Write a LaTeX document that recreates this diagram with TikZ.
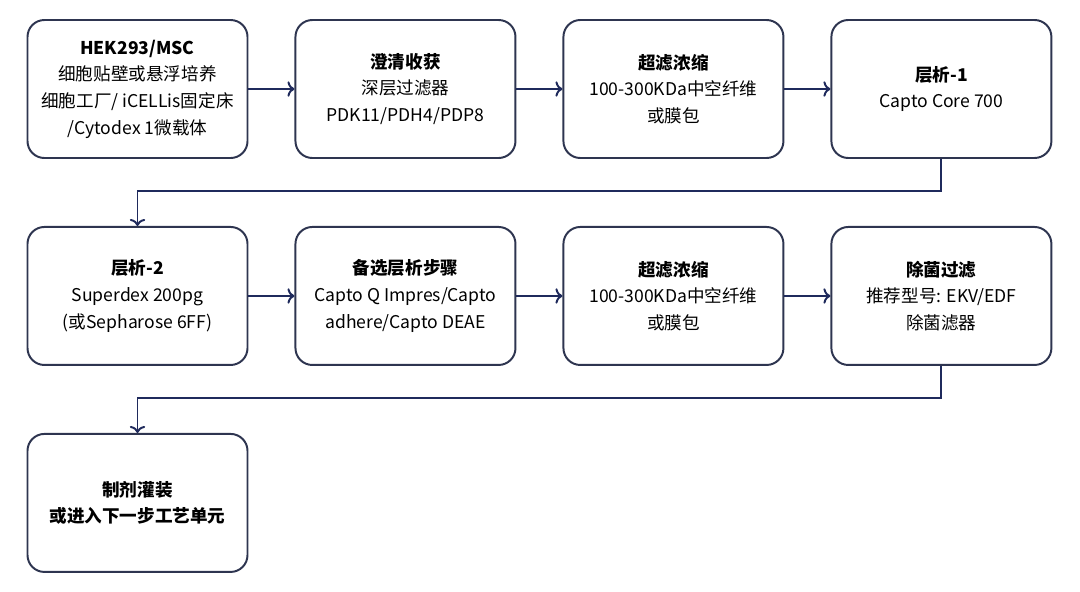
\documentclass[tikz,border=0pt]{standalone}
\usepackage{fontspec}
\setmainfont{Noto Sans CJK SC}
\usetikzlibrary{calc,arrows.meta,positioning}
\definecolor{navy}{HTML}{1F2A5C}
\definecolor{boxline}{HTML}{2E3550}
\begin{document}
\begin{tikzpicture}[>={To[length=5pt,width=11pt]}, line/.style={draw=navy, line width=1.4pt}]
    % Define styles for the process steps
    \tikzstyle{procbox} = [draw=boxline, line width=1.4pt, fill=white, rectangle, rounded corners=12pt, minimum height=3.45cm, minimum width=5.5cm, align=center, font=\fontsize{12.5}{19}\selectfont]
    \useasboundingbox (0,0) rectangle (27,-14.775);

    % Nodes placement
    \node [procbox] (culture) at (3.4375,-2.225) {\textbf{HEK293/MSC}\\细胞贴壁或悬浮培养\\细胞工厂/ iCELLis固定床\\/Cytodex 1微载体};
    \node [procbox, right=1.15cm of culture] (harvest) {\textbf{澄清收获}\\深层过滤器\\PDK11/PDH4/PDP8};
    \node [procbox, right=1.15cm of harvest] (ufa) {\textbf{超滤浓缩}\\100-300KDa中空纤维\\或膜包};
    \node [procbox, right=1.15cm of ufa] (chromA) {\textbf{层析-1}\\Capto Core 700};
    \node [procbox, below=1.675cm of culture] (chromB) {\textbf{层析-2}\\Superdex 200pg\\(或Sepharose 6FF)};
    \node [procbox, right=1.15cm of chromB] (optional) {\textbf{备选层析步骤}\\Capto Q Impres/Capto\\adhere/Capto DEAE};
    \node [procbox, right=1.15cm of optional] (ufb) {\textbf{超滤浓缩}\\100-300KDa中空纤维\\或膜包};
    \node [procbox, right=1.15cm of ufb] (sterile) {\textbf{除菌过滤}\\推荐型号: EKV/EDF\\除菌滤器};
    \node [procbox, below=1.675cm of chromB] (fill) {\textbf{制剂灌装}\\\textbf{或进入下一步工艺单元}};

    % Draw edges
    \draw[line,->] (culture) -- (harvest);
    \draw[line,->] (harvest) -- (ufa);
    \draw[line,->] (ufa) -- (chromA);
    \draw[line,->] (chromA.south) -- ++(0,-0.8) -| (chromB.north);
    \draw[line,->] (chromB) -- (optional);
    \draw[line,->] (optional) -- (ufb);
    \draw[line,->] (ufb) -- (sterile);
    \draw[line,->] (sterile.south) -- ++(0,-0.8) -| (fill.north);
\end{tikzpicture}
\end{document}
